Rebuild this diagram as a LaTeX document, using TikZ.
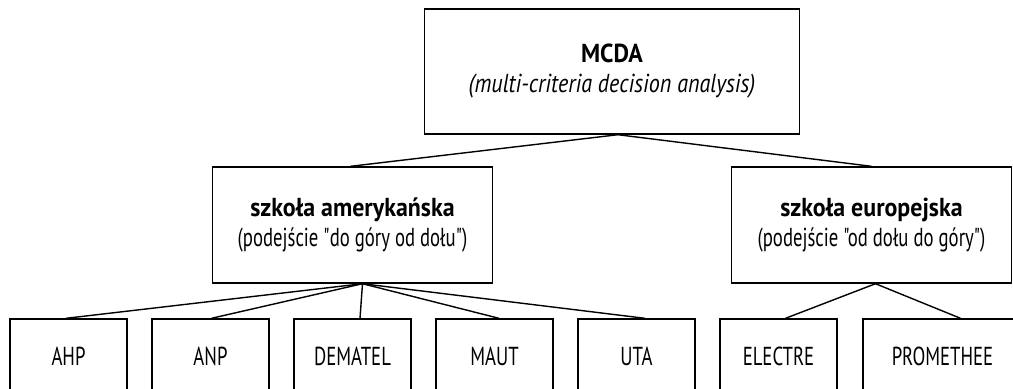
\documentclass[tikz,border=0pt]{standalone}
\usepackage{fontspec}
\setmainfont{PT Sans}[Ligatures=TeXOff,FakeStretch=0.72,
  BoldFeatures={FakeStretch=0.92},ItalicFeatures={FakeStretch=0.85}]
\usepackage{tikz}
\tikzstyle{box}=[draw,line width=0.7pt,inner sep=0pt,align=center,font=\fontsize{13}{15}\selectfont]
\tikzstyle{rootbox}=[box,minimum width=187.5pt,minimum height=62.5pt]
\tikzstyle{school}=[box,minimum width=140pt,minimum height=58pt]
\tikzstyle{method}=[box,minimum width=58.5pt,minimum height=37pt]

\begin{document}
\begin{tikzpicture}[line width=0.7pt,
  level 1/.style={sibling distance=259.5pt,level distance=76.75pt},
  level 2/.style={sibling distance=71pt,level distance=65.5pt},
  edge shift/.style 2 args={edge from parent path={([xshift=#1]\tikzparentnode.south) -- ([xshift=#2]\tikzchildnode.north)}}]
\useasboundingbox (0,0) rectangle (506.5pt,-194pt);
\node [rootbox] (mcda) at (306pt,-35.75pt) {\textbf{MCDA}\\\textit{(multi-criteria decision analysis)}}
  child [edge shift={3pt}{-1pt}] {node [school] (amer) {\textbf{szkoła amerykańska}\\(podejście "do góry od dołu")}
    child [edge shift={5pt}{-1.25pt}] {node [method] (ahp) {AHP}}
    child [edge shift={5pt}{0.5pt}] {node [method] (anp) {ANP}}
    child [edge shift={5pt}{3.75pt}] {node [method] (dematel) {DEMATEL}}
    child [edge shift={5pt}{2.25pt}] {node [method] (maut) {MAUT}}
    child [edge shift={5pt}{4.25pt}] {node [method] (uta) {UTA}}
  }
  child [edge shift={3pt}{0pt}] {node [school] (euro) {\textbf{szkoła europejska}\\(podejście "od dołu do góry")}
    child [sibling distance=82pt,xshift=-5.5pt,edge shift={2pt}{3.5pt}] {node [method] (electre) {ELECTRE}}
    child [sibling distance=82pt,xshift=-5.5pt,edge shift={2pt}{9pt}] {node [method,minimum width=79.5pt] (promethee) {PROMETHEE}}
  };
\end{tikzpicture}
\end{document}
